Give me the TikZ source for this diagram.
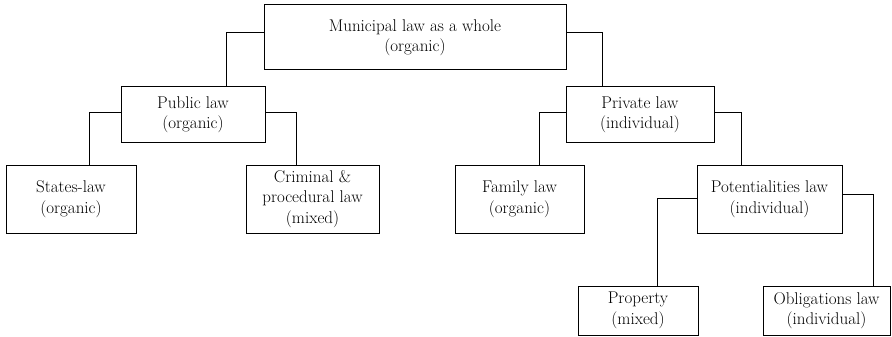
\documentclass[tikz,border=0pt]{standalone}
\usepackage{tikz}
\usetikzlibrary{positioning}

\tikzset{
  box/.style = {draw, line width = 1pt, align = center, inner sep = 0pt,
    font = \fontsize{17}{20.5}\selectfont},
  link/.style = {line width = 1pt},
}

\begin{document}
\begin{tikzpicture}[x = 1pt, y = -1pt]
    \useasboundingbox (0,0) rectangle (892,337);

    \node[box, minimum width = 302pt, minimum height = 65pt] (mun) at (415,37.5)
      {Municipal law as a whole\\(organic)};

    \node[box, minimum width = 144pt, minimum height = 55pt] (pub) at (193,114.5)
      {Public law\\(organic)};
    \node[box, right = 300pt of pub, minimum width = 148pt, minimum height = 55pt] (priv)
      {Private law\\(individual)};

    \node[box, minimum width = 130pt, minimum height = 68pt] (st) at (71,199)
      {States-law\\(organic)};
    \node[box, right = 109pt of st, minimum width = 133pt, minimum height = 68pt] (crim)
      {Criminal \&\\procedural law\\(mixed)};
    \node[box, right = 75pt of crim, minimum width = 129pt, minimum height = 68pt] (fam)
      {Family law\\(organic)};
    \node[box, right = 112pt of fam, minimum width = 145pt, minimum height = 68pt] (pot)
      {Potentialities law\\(individual)};

    \node[box, minimum width = 120pt, minimum height = 49pt] (prop) at (638,310.5)
      {Property\\(mixed)};
    \node[box, right = 64pt of prop, minimum width = 127pt, minimum height = 49pt] (obl)
      {Obligations law\\(individual)};

    \draw[link] ([yshift = 4.5pt]mun.west) -| ([xshift = 33pt]pub.north);
    \draw[link] ([yshift = 4.5pt]mun.east) -| ([xshift = -38pt]priv.north);

    \draw[link] ([yshift = 2.5pt]pub.west) -| ([xshift = 18pt]st.north);
    \draw[link] ([yshift = 2.5pt]pub.east) -| ([xshift = -16.5pt]crim.north);
    \draw[link] ([yshift = 2.5pt]priv.west) -| ([xshift = 19.5pt]fam.north);
    \draw[link] ([yshift = 2.5pt]priv.east) -| ([xshift = -28.5pt]pot.north);

    \draw[link] ([yshift = 1pt]pot.west) -| ([xshift = 19pt]prop.north);
    \draw[link] ([yshift = 5pt]pot.east) -| ([xshift = 46.5pt]obl.north);
\end{tikzpicture}
\end{document}
